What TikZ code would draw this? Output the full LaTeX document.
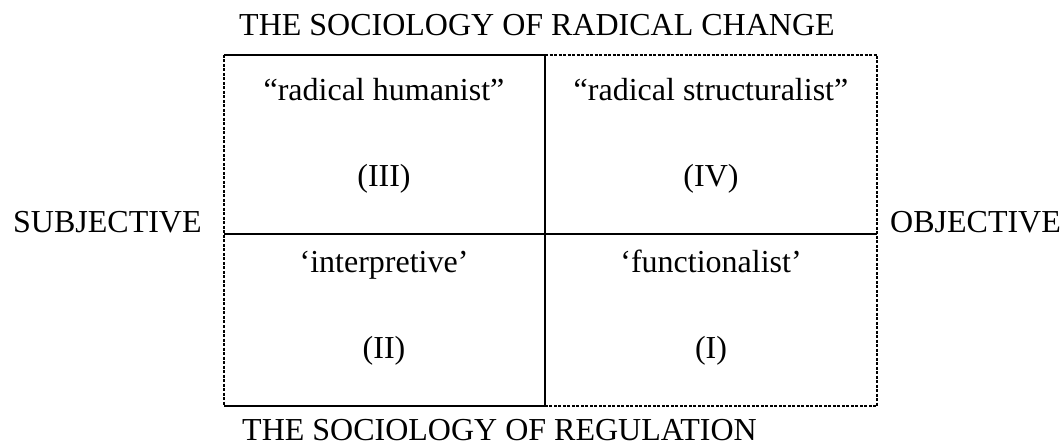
\documentclass[tikz,border=0pt]{standalone}
\usepackage{fontspec}
\setmainfont{Liberation Serif}
\begin{document}
\begin{tikzpicture}[x=1pt,y=-1pt,
  solidline/.style={line width=1.6pt},
  dashline/.style={line width=1.1pt, dash pattern=on 3pt off 1.5pt},
  lbl/.style={font=\fontsize{32}{36}\selectfont, inner sep=0pt, anchor=base west},
  qlbl/.style={font=\fontsize{32}{36}\selectfont, inner sep=0pt, anchor=base}]
\useasboundingbox (0,0) rectangle (1063,446);
\coordinate (tl) at (224,55);
\coordinate (tm) at (545,55);
\coordinate (tr) at (877,55);
\coordinate (ml) at (224,234);
\coordinate (mr) at (877,234);
\coordinate (bl) at (224,406);
\coordinate (bm) at (545,406);
\coordinate (br) at (877,406);
% solid parts
\draw[solidline] (tl) -- (tm) -- (bm) -- (bl);
\draw[solidline] (ml) -- (mr);
% dashed parts
\draw[dashline] (tl) -- (bl);
\draw[dashline] (tm) -- (tr) -- (br) -- (bm);
% labels
\node[lbl] (top) at (239,36) {THE SOCIOLOGY OF RADICAL CHANGE};
\node[lbl] (bot) at (242,440) {THE SOCIOLOGY OF REGULATION};
\node[lbl] (subj) at (13,233) {SUBJECTIVE};
\node[lbl] (obj) at (890,233) {OBJECTIVE};
\node[qlbl] (q3a) at (384,101) {``radical humanist''};
\node[qlbl] (q3b) at (384,187) {(III)};
\node[qlbl] (q4a) at (711,101) {``radical structuralist''};
\node[qlbl] (q4b) at (711,187) {(IV)};
\node[qlbl] (q2a) at (384,273) {`interpretive'};
\node[qlbl] (q2b) at (384,359) {(II)};
\node[qlbl] (q1a) at (711,273) {`functionalist'};
\node[qlbl] (q1b) at (711,359) {(I)};
\end{tikzpicture}
\end{document}
